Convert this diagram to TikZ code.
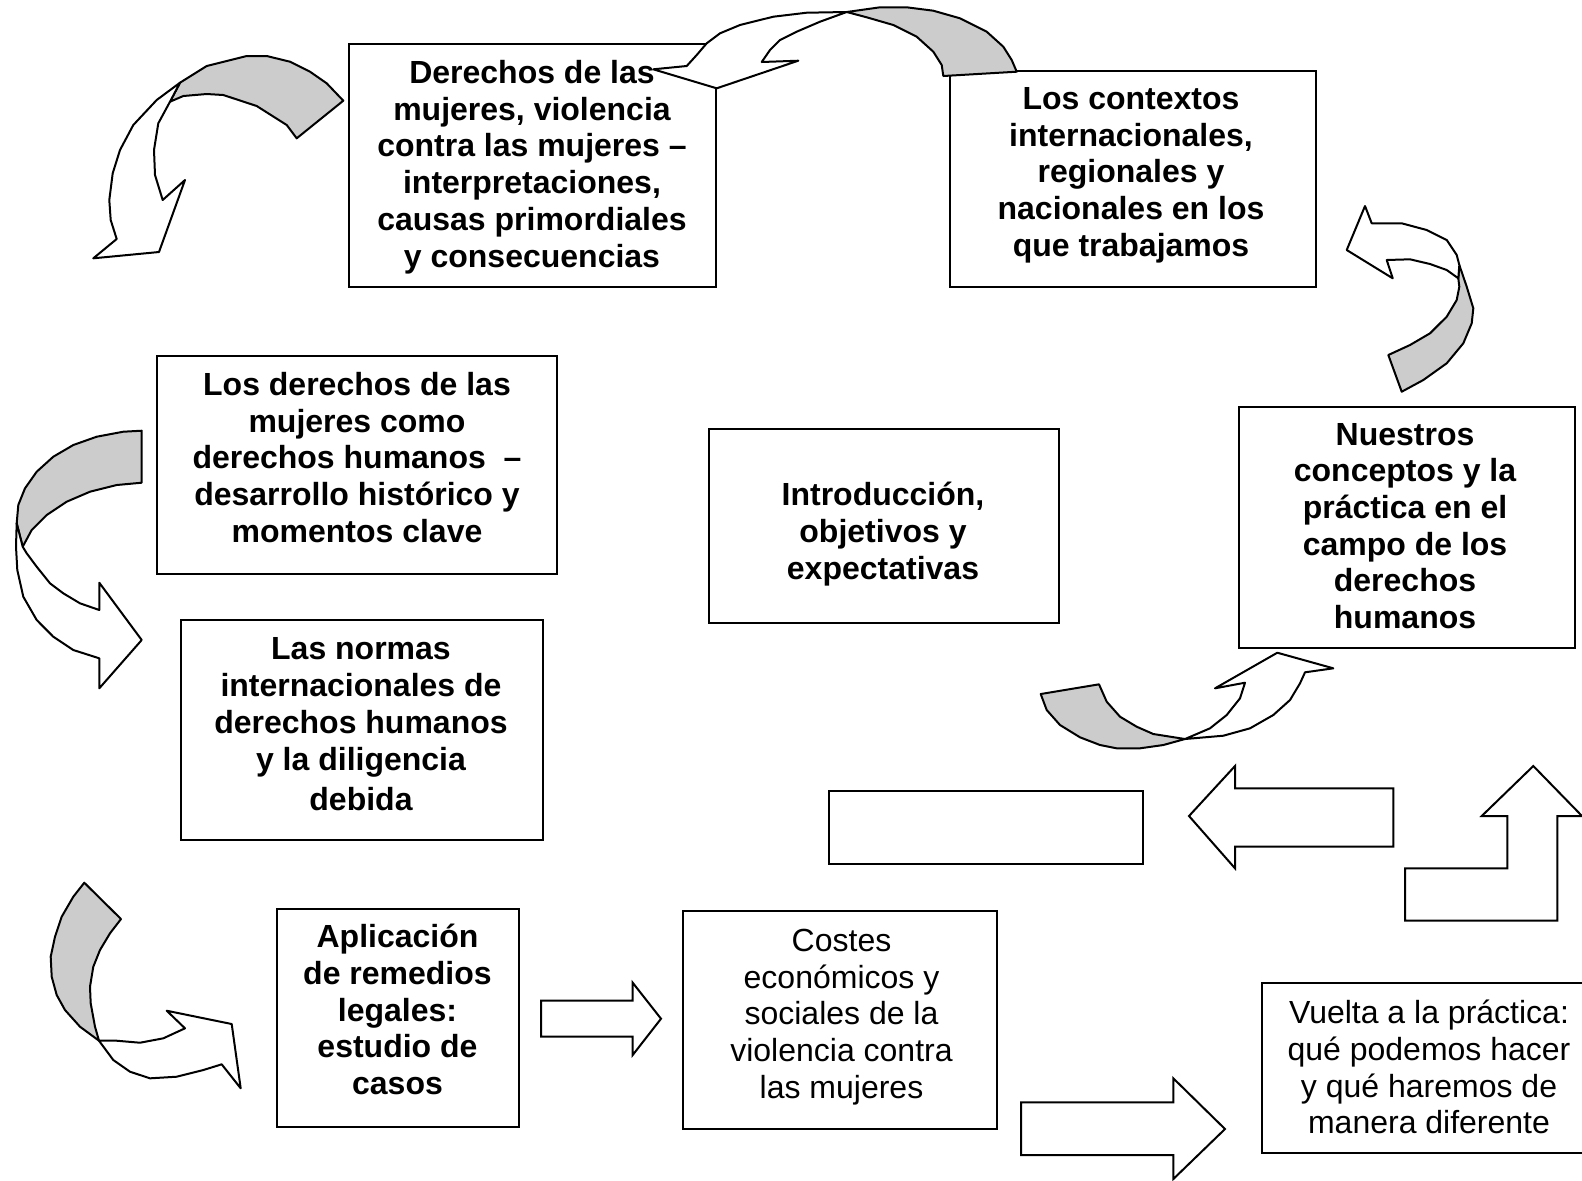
\documentclass[tikz,border=0pt]{standalone}
\usepackage{fontspec}
\setmainfont{Liberation Sans}
\begin{document}
\begin{tikzpicture}[x=0.5pt,y=-0.5pt,
  box/.style={draw=black, line width=1pt, fill=white, inner sep=0pt},
  txt/.style={align=center, font=\fontsize{16}{18.35}\selectfont\bfseries, inner sep=0pt},
  txtr/.style={align=center, font=\fontsize{16}{18.35}\selectfont, inner sep=0pt},
  band/.style={draw=black, line width=1pt, fill=black!20, line join=round},
  front/.style={draw=black, line width=1pt, fill=white, line join=round},
  blockarrow/.style={draw=black, line width=1pt, fill=white, line join=miter}]
\fill[white] (0,0) rectangle (1582,1180);
\useasboundingbox (0,0) rectangle (1582,1180);

% boxes
\node[box, minimum width=183.5pt, minimum height=121.5pt] (b1) at (532.5,165.5) {};
\node[box, minimum width=183pt, minimum height=108.25pt] (b2) at (1133,178.75) {};
\node[box, minimum width=200pt, minimum height=109pt] (b3) at (357,465) {};
\node[box, minimum width=175pt, minimum height=97pt] (b4) at (884,526) {};
\node[box, minimum width=168pt, minimum height=120.5pt] (b5) at (1407,527.5) {};
\node[box, minimum width=181pt, minimum height=110pt] (b6) at (362,730) {};
\node[box, minimum width=157pt, minimum height=36.5pt] (b7) at (986,827.5) {};
\node[box, minimum width=121pt, minimum height=109pt] (b8) at (398,1018) {};
\node[box, minimum width=157pt, minimum height=109pt] (b9) at (840,1020) {};
\node[box, minimum width=168pt, minimum height=85pt] (b10) at (1430,1068) {};

% texts
\node[txt] (t1) at (532,167) {Derechos de las\\mujeres, violencia\\contra las mujeres --\\interpretaciones,\\causas primordiales\\y consecuencias};
\node[txt] (t2) at (1131,175) {Los contextos\\internacionales,\\regionales y\\nacionales en los\\que trabajamos};
\node[txt] (t3) at (357,457.5) {Los derechos de las\\mujeres como\\derechos humanos\ \ --\\desarrollo histórico y\\momentos clave};
\node[txt] (t4) at (883,534) {Introducción,\\objetivos y\\expectativas};
\node[txt] (t5) at (1405,526) {Nuestros\\conceptos y la\\práctica en el\\campo de los\\derechos\\humanos};
\node[txt] (t6) at (361,724.5) {Las normas\\internacionales de\\derechos humanos\\y la diligencia\\[2pt]debida};
\node[txt] (t8) at (397.5,1009.5) {Aplicación\\de remedios\\legales:\\estudio de\\casos};
\node[txtr] (t9) at (841.5,1017) {Costes\\económicos y\\sociales de la\\violencia contra\\las mujeres};
\node[txtr] (t10) at (1429,1067) {Vuelta a la práctica:\\qué podemos hacer\\y qué haremos de\\manera diferente};

% curved arrow A (top left)
\draw[band] (180,82.7) -- (206.7,66) -- (246.7,56) -- (266.7,56) -- (290,61.7) -- (310,71.7) -- (326.7,83.3) -- (343.3,100.7) -- (296.7,138.3) -- (286.7,125) -- (256.7,106) -- (223.3,95) -- (206.7,94) -- (183.3,96) -- (170,101.7) -- cycle;
\draw[front] (180,82.7) -- (156.7,100) -- (133.3,125) -- (120,150) -- (112.7,173.3) -- (109.3,200) -- (110.7,220) -- (116.7,239) -- (93.3,258.3) -- (159,252) -- (185,180) -- (162.7,200) -- (155,175) -- (154,150) -- (158.3,123.3) -- (170,101.7) -- cycle;

% curved arrow B (top)
\draw[band] (846.7,12) -- (880,7.3) -- (906.7,7.3) -- (933.3,10.7) -- (960,18.3) -- (986.7,31.7) -- (1003.3,46.7) -- (1011.7,60) -- (1016.7,71.7) -- (943.3,76) -- (941.7,65) -- (933.3,51.7) -- (916.7,36.7) -- (893.3,25) -- (866.7,17.3) -- cycle;
\draw[front] (846.7,12) -- (806.7,12.7) -- (773.3,16.7) -- (740,25) -- (720,33.3) -- (706.7,43.3) -- (696.7,55) -- (686.7,66) -- (653.3,69.3) -- (716.7,88.3) -- (798.3,60.7) -- (761.7,62) -- (770,50) -- (780,40) -- (796.7,31.7) -- (820,21.7) -- cycle;

% curved arrow C (right)
\draw[band] (1459.3,265) -- (1466.7,286.7) -- (1473.3,308.3) -- (1471.7,323.3) -- (1463.3,343.3) -- (1446.7,363.3) -- (1423.3,380) -- (1401.7,391.7) -- (1388.3,355) -- (1410,345) -- (1430,333.3) -- (1446.7,316.7) -- (1456.7,300) -- (1459.3,286.7) -- (1458.3,278.3) -- cycle;
\draw[front] (1459.3,265) -- (1456.7,255) -- (1446.7,240) -- (1426.7,230) -- (1401.7,223.3) -- (1371.7,223.3) -- (1365,206) -- (1346.7,250) -- (1392.7,278.3) -- (1386.7,260) -- (1410,259.3) -- (1430,264) -- (1446.7,270) -- (1458.3,278.3) -- cycle;

% curved arrow D (left)
\draw[band] (141.7,430.7) -- (123.3,431.7) -- (96.7,436.7) -- (73.3,445) -- (53.3,456.7) -- (36.7,471.7) -- (25,488.3) -- (18.3,505) -- (16.7,523.3) -- (22.7,546.7) -- (31.7,530) -- (46.7,515) -- (66.7,501.7) -- (90,491.7) -- (116.7,485) -- (141.7,482.7) -- cycle;
\draw[front] (16.7,523.3) -- (16,546.7) -- (17.3,570) -- (23.3,596.7) -- (36.7,620) -- (53.3,636.7) -- (73.3,650) -- (99.3,658.3) -- (99.3,688.3) -- (141.7,640) -- (99.3,582.7) -- (99.3,610) -- (80,603.3) -- (63.3,593.3) -- (50,583.3) -- (36.7,566.7) -- (26.7,553.3) -- (22.7,546.7) -- cycle;

% curved arrow E (middle right)
\draw[band] (1040.7,694) -- (1099,684.3) -- (1106.7,701.7) -- (1120,716.7) -- (1136.7,726.7) -- (1153.3,734) -- (1185,739) -- (1163.3,745) -- (1140,748.3) -- (1116.7,748.3) -- (1100,745) -- (1080,737.3) -- (1060,725) -- (1046.7,710) -- cycle;
\draw[front] (1185,739) -- (1210,728.3) -- (1226.7,715) -- (1240,698.3) -- (1245,682.7) -- (1215,688.3) -- (1277.3,652.7) -- (1333.3,668.3) -- (1305,672.3) -- (1300,683.3) -- (1290,700) -- (1273.3,715) -- (1250,728.3) -- (1223.3,735.7) -- cycle;

% curved arrow F (bottom left)
\draw[band] (84.3,882.7) -- (121,919) -- (110,933.3) -- (100,950) -- (93.3,966.7) -- (90,986.7) -- (90.7,1003.3) -- (95,1026.7) -- (99,1040.7) -- (80,1026.7) -- (65,1010) -- (56.7,995) -- (51.7,976.7) -- (50.7,956.7) -- (55,936.7) -- (61.7,916.7) -- (73.3,896.7) -- cycle;
\draw[front] (99,1040.7) -- (116.7,1040.7) -- (140,1042.7) -- (163.3,1038.3) -- (185,1028.3) -- (166.7,1010.7) -- (231.7,1024) -- (240.7,1088.3) -- (221.7,1064.3) -- (203.3,1070) -- (176.7,1076.7) -- (150,1078.3) -- (130,1071.7) -- (113.3,1060) -- cycle;

% straight block arrows
\draw[blockarrow] (541,1000.7) -- (632.7,1000.7) -- (632.7,982.7) -- (661,1018.7) -- (632.7,1055) -- (632.7,1036.7) -- (541,1036.7) -- cycle;
\draw[blockarrow] (1021,1102.3) -- (1173.3,1102.3) -- (1173.3,1078.3) -- (1225,1129) -- (1173.3,1179) -- (1173.3,1155) -- (1021,1155) -- cycle;
\draw[blockarrow] (1393.3,788.3) -- (1235,788.3) -- (1235,766) -- (1189,816) -- (1235,868.3) -- (1235,846.7) -- (1393.3,846.7) -- cycle;
\draw[blockarrow] (1405,920.7) -- (1405,868.3) -- (1507.3,868.3) -- (1507.3,816) -- (1481.7,816) -- (1533.3,766) -- (1582,816) -- (1557.3,816) -- (1557.3,920.7) -- cycle;
\end{tikzpicture}
\end{document}
